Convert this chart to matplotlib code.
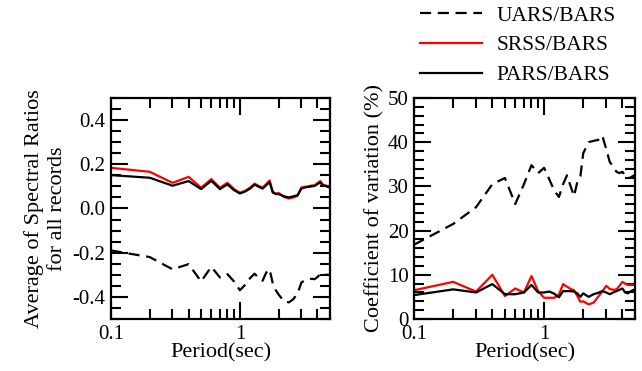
"""Spectral ratio mean and coefficient of variation versus period."""

import matplotlib

matplotlib.use("Agg")
import matplotlib.pyplot as plt
from matplotlib.ticker import LogLocator, MultipleLocator, NullFormatter

plt.rcParams["font.family"] = ["Liberation Serif", "DejaVu Serif"]
plt.rcParams["font.size"] = 15

periods = [0.1, 0.2, 0.3, 0.4, 0.5, 0.6, 0.7, 0.8, 0.9, 1.0,
           1.1, 1.2, 1.3, 1.4, 1.5, 1.6, 1.7, 1.8, 1.9, 2.0,
           2.2, 2.4, 2.6, 2.8, 3.0, 3.2, 3.4, 3.6, 3.8, 4.0,
           4.2, 4.4, 4.6, 4.8, 5.0]

# average of spectral ratios
uars_mean = [-0.19, -0.22, -0.275, -0.252, -0.33, -0.264, -0.312, -0.297, -0.33, -0.37,
             -0.345, -0.315, -0.295, -0.315, -0.327, -0.29, -0.275, -0.34, -0.37, -0.39,
             -0.42, -0.425, -0.41, -0.385, -0.335, -0.325, -0.322, -0.318, -0.32, -0.31,
             -0.297, -0.305, -0.30, -0.30, -0.30]
srss_mean = [0.184, 0.166, 0.116, 0.143, 0.094, 0.133, 0.094, 0.116, 0.088, 0.071,
             0.08, 0.095, 0.112, 0.102, 0.095, 0.11, 0.127, 0.075, 0.068, 0.07,
             0.052, 0.045, 0.05, 0.057, 0.095, 0.098, 0.1, 0.104, 0.105, 0.115,
             0.124, 0.108, 0.105, 0.1, 0.097]
pars_mean = [0.151, 0.139, 0.103, 0.124, 0.088, 0.125, 0.088, 0.109, 0.083, 0.068,
             0.077, 0.09, 0.108, 0.098, 0.09, 0.105, 0.12, 0.072, 0.065, 0.065,
             0.055, 0.05, 0.055, 0.06, 0.09, 0.095, 0.098, 0.1, 0.102, 0.11,
             0.118, 0.105, 0.102, 0.098, 0.095]

# coefficient of variation (%)
uars_cov = [16.8, 21.5, 25.3, 30.5, 31.9, 26.0, 30.5, 34.8, 33.0, 34.2,
            31.5, 29.0, 27.6, 30.5, 32.5, 30.0, 27.8, 31.0, 32.2, 37.5,
            40.0, 40.3, 40.5, 41.5, 38.5, 35.5, 34.5, 33.3, 33.0, 33.3,
            32.5, 31.8, 32.0, 32.3, 32.6]
srss_cov = [6.5, 8.4, 6.2, 10.0, 5.2, 6.9, 6.0, 9.7, 6.3, 4.8,
            4.8, 4.8, 5.5, 7.9, 7.3, 6.8, 6.5, 5.2, 3.9, 4.0,
            3.3, 3.7, 5.0, 6.2, 7.5, 6.8, 6.6, 6.7, 7.5, 8.4,
            8.0, 7.7, 7.7, 7.7, 7.7]
pars_cov = [5.4, 6.7, 6.0, 7.9, 5.6, 5.6, 6.0, 7.7, 6.0, 6.0,
            6.2, 5.7, 4.9, 6.3, 6.3, 6.3, 6.2, 5.8, 5.0, 5.8,
            5.0, 5.6, 5.9, 6.3, 6.0, 5.6, 6.0, 6.3, 6.6, 6.9,
            6.0, 5.8, 6.2, 6.5, 6.7]

series_labels = ["UARS/BARS", "SRSS/BARS", "PARS/BARS"]
lw = 1.6
dash = (0, (5, 3))


def style_axis(ax):
    ax.set_xscale("log")
    ax.set_xlim(0.1, 5.0)
    ax.set_xticks([0.1, 1])
    ax.set_xticklabels(["0.1", "1"])
    ax.xaxis.set_minor_locator(LogLocator(base=10, subs=range(2, 10)))
    ax.xaxis.set_minor_formatter(NullFormatter())
    ax.tick_params(which="both", direction="in", top=True, right=True, width=1.5,
                   labelsize=15)
    ax.tick_params(which="major", length=12, pad=4)
    ax.tick_params(which="minor", length=7)
    for sp in ax.spines.values():
        sp.set_linewidth(1.6)
    ax.set_xlabel("Period(sec)", fontsize=16, labelpad=0)


fig = plt.figure(figsize=(6.42, 3.71), dpi=100)
ax1 = fig.add_axes([0.1729, 0.1402, 0.3411, 0.5957])
ax2 = fig.add_axes([0.6449, 0.1402, 0.3442, 0.5957])

ax1.plot(periods, uars_mean, color="black", lw=lw, linestyle=dash)
ax1.plot(periods, srss_mean, color="red", lw=lw)
ax1.plot(periods, pars_mean, color="black", lw=lw)
style_axis(ax1)
ax1.set_ylim(-0.5, 0.5)
ax1.set_yticks([-0.4, -0.2, 0.0, 0.2, 0.4])
ax1.set_yticklabels(["-0.4", "-0.2", "0.0", "0.2", "0.4"])
ax1.yaxis.set_minor_locator(MultipleLocator(0.05))
ax1.set_ylabel("Average of Spectral Ratios\nfor all records", fontsize=16,
               linespacing=1.25, labelpad=4)

h1, = ax2.plot(periods, uars_cov, color="black", lw=lw, linestyle=dash)
h2, = ax2.plot(periods, srss_cov, color="red", lw=lw)
h3, = ax2.plot(periods, pars_cov, color="black", lw=lw)
style_axis(ax2)
ax2.set_ylim(0, 50)
ax2.yaxis.set_major_locator(MultipleLocator(10))
ax2.yaxis.set_minor_locator(MultipleLocator(2))
ax2.set_ylabel("Coefficient of variation (%)", fontsize=16, labelpad=2)

fig.legend([h1, h2, h3], series_labels, loc="upper left",
           bbox_to_anchor=(0.654, 0.985), frameon=False, borderaxespad=0,
           borderpad=0, handlelength=2.9, handletextpad=0.65,
           labelspacing=0.45, fontsize=15.5)

fig.savefig("out.png", dpi=100)
